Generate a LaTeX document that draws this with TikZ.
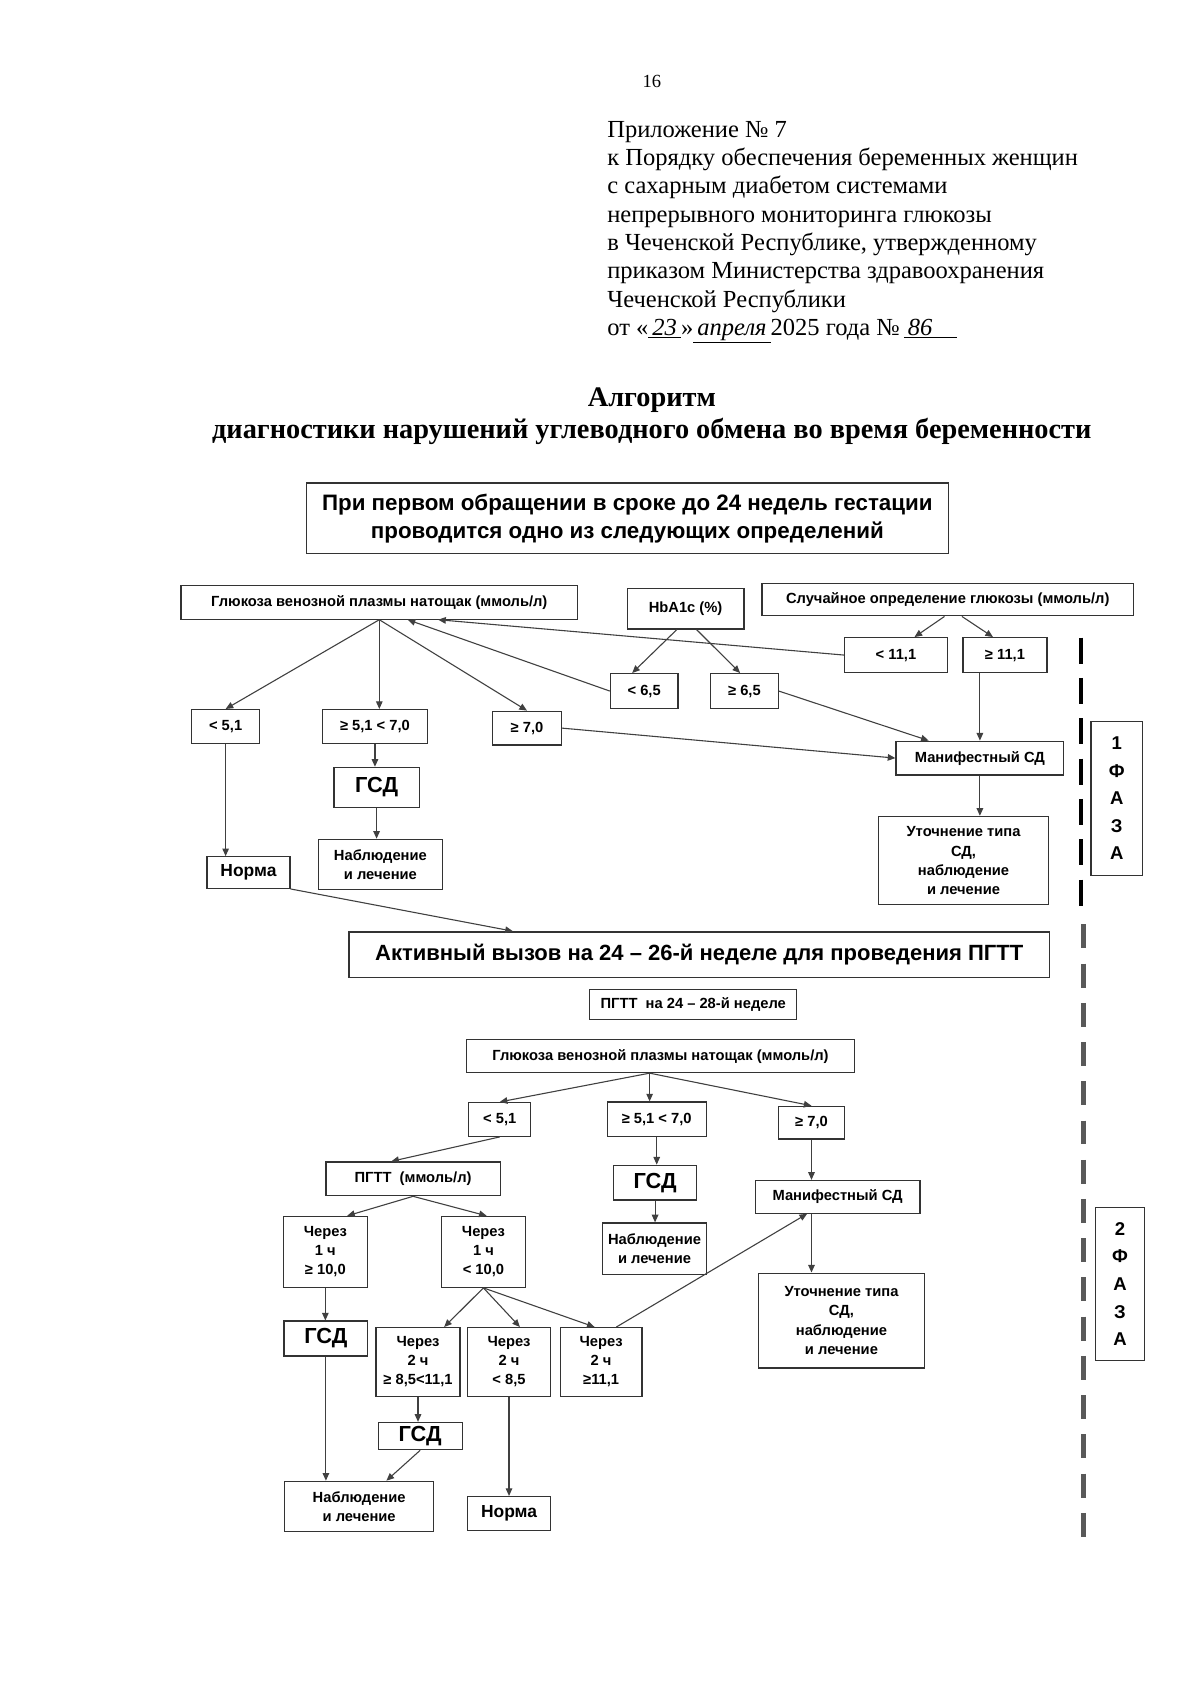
\documentclass[tikz,border=0pt]{standalone}
\usepackage{fontspec}
\setmainfont{Liberation Serif}
\setsansfont{Liberation Sans}
\usetikzlibrary{arrows.meta}
\begin{document}
\begin{tikzpicture}[x=1pt,y=-1pt,
    box/.style={draw=black!80, line width=1.1pt, inner sep=1pt, align=center,
      font=\sffamily\bfseries\fontsize{13.5pt}{17.5pt}\selectfont},
    sz/.style 2 args={minimum width=#1, minimum height=#2},
    gsd/.style={font=\sffamily\bfseries\fontsize{20pt}{22pt}\selectfont},
    norma/.style={font=\sffamily\bfseries\fontsize{16pt}{18pt}\selectfont},
    headbox/.style={line width=1.4pt, font=\sffamily\bfseries\fontsize{20.5pt}{26pt}\selectfont},
    phase/.style={font=\sffamily\bfseries\fontsize{17pt}{25.3pt}\selectfont},
    arr/.style={-{Triangle[length=7pt,width=6pt]}, draw=black!75, line width=1pt}]
  \useasboundingbox[fill=white] (0,0) rectangle (1101,1567);
  % header
  \node[font=\fontsize{17pt}{20pt}\selectfont] (pg16) at (598,75) {16};
  \node[anchor=north west, align=left, inner sep=0pt,
    font=\fontsize{22.5pt}{26pt}\selectfont] (appx) at (557,111)
    {Приложение № 7\\
     к Порядку обеспечения беременных женщин\\
     с сахарным диабетом системами\\
     непрерывного мониторинга глюкозы\\
     в Чеченской Республике, утвержденному\\
     приказом Министерства здравоохранения\\
     Чеченской Республики\\
     от «\underline{\itshape\,23\,}»\underline{\itshape\,апреля\,}2025 года №\,\underline{\itshape\,86\quad}};
  \node[font=\bfseries\fontsize{26pt}{28pt}\selectfont] (ttl1) at (598,367) {Алгоритм};
  \node[font=\bfseries\fontsize{26pt}{28pt}\selectfont] (ttl2) at (598,396)
    {диагностики нарушений углеводного обмена во время беременности};
  % phase 1
  \node[box, headbox, sz={589}{65}] (top) at (575.5,475.5)
    {При первом обращении в сроке до 24 недель гестации\\проводится одно из следующих определений};
  \node[box, sz={364}{31}] (gl1) at (348,552.5) {Глюкоза венозной плазмы натощак (ммоль/л)};
  \node[box, sz={107}{37}] (hb) at (629,558.5) {HbA1c (\%)};
  \node[box, sz={341}{30}] (rnd) at (869.5,550) {Случайное определение глюкозы (ммоль/л)};
  \node[box, sz={94}{32}] (r1) at (822,601) {< 11,1};
  \node[box, sz={77}{32}] (r2) at (922,601) {≥ 11,1};
  \node[box, sz={62}{32}] (h1) at (591,634) {< 6,5};
  \node[box, sz={62}{32}] (h2) at (683,634) {≥ 6,5};
  \node[box, sz={62}{31}] (g1) at (207,666.5) {< 5,1};
  \node[box, sz={96}{31}] (g2) at (344,666.5) {≥ 5,1 < 7,0};
  \node[box, sz={63}{31}] (g3) at (483.5,668) {≥ 7,0};
  \node[box, sz={154}{31}] (m1) at (899,695.5) {Манифестный СД};
  \node[box, gsd, sz={78}{37}] (s1) at (345.5,722.5) {ГСД};
  \node[box, sz={114}{46}] (n1) at (349,793) {Наблюдение\\и лечение};
  \node[box, norma, sz={76}{29}] (nm1) at (228,800.5) {Норма};
  \node[box, sz={156}{81}] (u1) at (884,789.5) {Уточнение типа\\СД,\\наблюдение\\и лечение};
  \node[box, phase, sz={47}{141}] (f1) at (1024.5,732.5) {1\\Ф\\А\\З\\А};
  \node[box, headbox, sz={643}{42}, font=\sffamily\bfseries\fontsize{20.2pt}{22pt}\selectfont] (act) at (641.5,876)
    {Активный вызов на 24 – 26-й неделе для проведения ПГТТ};
  \node[box, sz={190}{27}] (pgtt) at (636,921.5) {ПГТТ\ \ на 24 – 28-й неделе};
  % phase 2
  \node[box, sz={356}{30}] (gl2) at (606,969) {Глюкоза венозной плазмы натощак (ммоль/л)};
  \node[box, sz={57}{31}] (k1) at (458.5,1027) {< 5,1};
  \node[box, sz={91}{32}] (k2) at (602.5,1027) {≥ 5,1 < 7,0};
  \node[box, sz={61}{30}] (k3) at (744.5,1030) {≥ 7,0};
  \node[box, sz={160}{31}] (pg) at (379,1081.5) {ПГТТ\ \ (ммоль/л)};
  \node[box, gsd, sz={76}{32}] (s2) at (601,1085) {ГСД};
  \node[box, sz={151}{30}] (m2) at (768.5,1098) {Манифестный СД};
  \node[box, sz={77}{65}] (c1) at (298.5,1148.5) {Через\\1 ч\\≥ 10,0};
  \node[box, sz={77}{65}] (c2) at (443.5,1148.5) {Через\\1 ч\\< 10,0};
  \node[box, sz={95}{47}] (n2) at (600.5,1145.5) {Наблюдение\\и лечение};
  \node[box, sz={152}{87}] (u2) at (772,1211.5) {Уточнение типа\\СД,\\наблюдение\\и лечение};
  \node[box, gsd, sz={77}{32}] (s3) at (299,1228) {ГСД};
  \node[box, sz={77}{63}] (d1) at (383.5,1249.5) {Через\\2 ч\\≥ 8,5<11,1};
  \node[box, sz={76}{63}] (d2) at (467,1249.5) {Через\\2 ч\\< 8,5};
  \node[box, sz={75}{63}] (d3) at (551.5,1249.5) {Через\\2 ч\\≥11,1};
  \node[box, gsd, sz={77}{25}] (s4) at (385.5,1317.5) {ГСД};
  \node[box, sz={137}{46}] (n3) at (329.5,1382) {Наблюдение\\и лечение};
  \node[box, norma, sz={76}{31}] (nm2) at (467,1388.5) {Норма};
  \node[box, phase, sz={45}{140}] (f2) at (1027.5,1178) {2\\Ф\\А\\З\\А};
  % phase border
  \draw[line width=4pt, dash pattern=on 24pt off 13pt] (992,585) -- (992,832);
  \draw[line width=4pt, black!65, dash pattern=on 22pt off 14pt] (994,848) -- (994,1420);
  \begin{scope}[arr]
    \draw (gl1.south) to (g1.north);
    \draw (gl1.south) to (gl1.south |- g2.north);
    \draw (gl1.south) to (g3.north);
    \draw (h1.west) to ([xshift=26]gl1.south);
    \draw (r1.west) to ([xshift=54]gl1.south);
    \draw ([xshift=-8]hb.south) to ([xshift=-11]h1.north);
    \draw ([xshift=10]hb.south) to ([xshift=-4]h2.north);
    \draw ([xshift=-3]rnd.south) to ([xshift=17]r1.north);
    \draw ([xshift=13]rnd.south) to ([xshift=-11]r2.north);
    \draw (g3.east) to (m1.west);
    \draw (h2.east) to ([xshift=-47]m1.north);
    \draw (r2.south -| m1.north) to (m1.north);
    \draw (m1.south) to (m1.south |- u1.north);
    \draw (g2.south) to (g2.south |- s1.north);
    \draw (s1.south) to (s1.south |- n1.north);
    \draw (g1.south) to (g1.south |- nm1.north);
    \draw (nm1.south east) to ([xshift=-171]act.north);
    \draw ([xshift=-10]gl2.south) to (k1.north);
    \draw ([xshift=-10]gl2.south) to ([xshift=-10]gl2.south |- k2.north);
    \draw ([xshift=-10]gl2.south) to (k3.north);
    \draw (k1.south) to ([xshift=-20]pg.north);
    \draw (k2.south) to (k2.south |- s2.north);
    \draw (s2.south) to (s2.south |- n2.north);
    \draw (k3.south) to (k3.south |- m2.north);
    \draw (m2.south -| k3.south) to (u2.north -| k3.south);
    \draw (pg.south) to ([xshift=20]c1.north);
    \draw (pg.south) to ([xshift=3]c2.north);
    \draw (c1.south) to (c1.south |- s3.north);
    \draw (s3.south) to (s3.south |- n3.north);
    \draw (c2.south) to ([xshift=24]d1.north);
    \draw (c2.south) to ([xshift=10]d2.north);
    \draw (c2.south) to ([xshift=-6]d3.north);
    \draw ([xshift=14]d3.north) to ([xshift=-28]m2.south);
    \draw (d1.south) to (d1.south |- s4.north);
    \draw (s4.south) to ([xshift=25]n3.north);
    \draw (d2.south) to (d2.south |- nm2.north);
  \end{scope}
\end{tikzpicture}
\end{document}
